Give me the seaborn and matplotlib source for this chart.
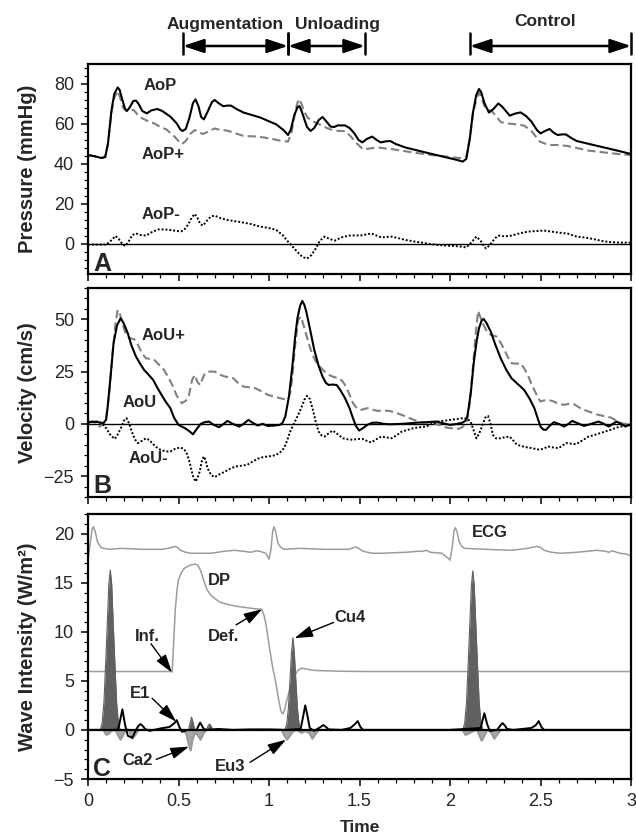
import numpy as np
import matplotlib
matplotlib.use("Agg")
import matplotlib.pyplot as plt
import matplotlib.transforms as mtransforms
from matplotlib.ticker import MultipleLocator, AutoMinorLocator
import seaborn as sns

# ---------------- DATA ----------------
# Panel A: pressure (mmHg)
t_aop = [0, 0.04, 0.074, 0.095, 0.11, 0.13, 0.145, 0.164, 0.175, 0.19, 0.205, 0.215, 0.232, 0.25, 0.265, 0.28, 0.3,
         0.325, 0.35, 0.383, 0.41, 0.455, 0.49, 0.51, 0.522, 0.54, 0.56, 0.58, 0.594, 0.61, 0.625, 0.64, 0.66, 0.685,
         0.70, 0.72, 0.747, 0.77, 0.79, 0.82, 0.86, 0.95, 1.04, 1.08, 1.105, 1.12, 1.14, 1.158, 1.168, 1.18, 1.195,
         1.21, 1.23, 1.25, 1.275, 1.296, 1.315, 1.34, 1.36, 1.38, 1.42, 1.445, 1.47, 1.495, 1.516, 1.54, 1.57, 1.595,
         1.617, 1.645, 1.67, 1.70, 1.756, 1.868, 1.98, 2.04, 2.07, 2.09, 2.11, 2.126, 2.145, 2.16, 2.172, 2.19, 2.215,
         2.24, 2.267, 2.29, 2.33, 2.36, 2.39, 2.42, 2.45, 2.48, 2.5, 2.525, 2.55, 2.575, 2.595, 2.62, 2.64, 2.67, 2.70,
         2.83, 2.92, 3.0]
aop = [44.5, 43.8, 43.0, 43.5, 50, 67, 75, 78.3, 77, 72, 67.5, 66.5, 68.5, 71.5, 71.7, 70, 66.5,
       65.3, 66.8, 67.5, 66.5, 63.7, 60.3, 57.3, 56.5, 57.5, 63, 70.5, 72.3, 69, 63.5, 62.3, 66, 71,
       72, 70.5, 68.9, 69.2, 69.2, 67.5, 65.7, 63.3, 59.8, 57, 54.5, 57, 64.5, 68.5, 69, 66.5, 62.5,
       58.5, 56.5, 58, 62, 63.5, 61.5, 58.7, 58.5, 59.3, 59.3, 58, 55.5, 52, 50.8, 52.5, 53.7, 52,
       50.8, 51.3, 51.5, 50, 48.2, 45.7, 43.3, 42, 41.2, 42.5, 53, 65.3, 74.5, 77.5, 76, 70.5, 65.7,
       67.5, 70.3, 68.5, 64.2, 65.2, 65.8, 64, 61.2, 57, 55.3, 56.5, 57.5, 55.5, 54.5, 54.8, 54.8, 53, 51.5,
       48.7, 46.8, 45]

t_aop_f = [0, 0.04, 0.074, 0.095, 0.11, 0.13, 0.145, 0.164, 0.178, 0.195, 0.21, 0.23, 0.253, 0.275, 0.30, 0.33,
           0.366, 0.40, 0.433, 0.455, 0.478, 0.50, 0.52, 0.54, 0.565, 0.59, 0.61, 0.635, 0.66, 0.70, 0.73, 0.77,
           0.81, 0.86, 0.92, 0.97, 1.03, 1.06, 1.105, 1.125, 1.14, 1.155, 1.166, 1.18, 1.195, 1.215, 1.25, 1.285,
           1.32, 1.35, 1.385, 1.42, 1.45, 1.48, 1.52, 1.56, 1.6, 1.64, 1.69, 1.78, 1.87, 1.97, 2.07, 2.09, 2.11,
           2.126, 2.145, 2.16, 2.175, 2.19, 2.204, 2.23, 2.255, 2.28, 2.31, 2.35, 2.41, 2.45, 2.496, 2.53, 2.56,
           2.6, 2.65, 2.70, 2.765, 2.85, 2.93, 3.0]
aop_f = [44.5, 43.8, 43, 43.5, 50, 66, 73, 76.5, 73, 68, 66.7, 67, 67, 64.5, 62.8, 61.5,
         60.3, 58.5, 57.3, 55.5, 53.7, 51.5, 50, 51.5, 55, 57, 56, 55, 56, 57.8, 57, 56.7,
         55.5, 54, 53.8, 53.3, 52.3, 51.7, 51.2, 56, 63.7, 70, 72.5, 70, 66, 63, 61, 59.5,
         58, 57, 56.5, 56.5, 54, 50.7, 47.3, 47.8, 48.3, 47.8, 47.3, 46, 44.8, 43.8, 42.8, 43.5, 53,
         64.5, 72.5, 75.7, 73, 69, 67.3, 66.5, 64, 61, 60.3, 60, 59.2, 56.5, 51.2, 50, 49.5,
         49.5, 49, 48, 46.7, 45.8, 45, 44.5]

t_aop_b = [0, 0.06, 0.1, 0.125, 0.152, 0.17, 0.19, 0.205, 0.22, 0.245, 0.265, 0.29, 0.32, 0.35, 0.388, 0.42, 0.455,
           0.49, 0.515, 0.535, 0.555, 0.575, 0.59, 0.605, 0.62, 0.635, 0.655, 0.68, 0.70, 0.73, 0.77, 0.82, 0.86,
           0.9, 0.95, 1.0, 1.04, 1.075, 1.105, 1.135, 1.16, 1.185, 1.21, 1.235, 1.257, 1.28, 1.307, 1.335, 1.364,
           1.40, 1.44, 1.475, 1.51, 1.54, 1.565, 1.595, 1.62, 1.65, 1.677, 1.72, 1.756, 1.80, 1.845, 1.89, 1.935,
           1.98, 2.025, 2.06, 2.09, 2.115, 2.146, 2.17, 2.19, 2.2, 2.22, 2.25, 2.27, 2.30, 2.34, 2.38, 2.43, 2.48,
           2.52, 2.56, 2.6, 2.65, 2.7, 2.75, 2.79, 2.84, 2.88, 2.94, 3.0]
aop_b = [-0.3, -0.3, -0.3, 1.5, 4, 2.5, 0, -1, 0.5, 4.5, 5.3, 4.5, 4.2, 5.8, 7.3, 7.3, 7,
         6.5, 6.3, 7.5, 10, 13.5, 15, 13, 10, 9.2, 11.5, 13.8, 14.2, 13, 12, 11.3, 10.7,
         10, 8.7, 8, 7, 4.5, 1.2, -1.8, -4.3, -6.5, -7.3, -5.5, -2.5, 1.5, 3.7, 2.5, 1.7,
         3.3, 4.2, 4.3, 4.3, 4.8, 5.3, 4.2, 3.3, 3.5, 3.7, 2.8, 2, 1.3, 0.7, 0, -0.5,
         -0.8, -1, -1.3, -1.7, 0.5, 3.7, 1.5, -1.5, -2.2, -0.5, 3, 4.2, 3.8, 4.2, 5.2, 6.2, 6.5,
         6.7, 6.2, 5.7, 5.2, 3.7, 3.2, 2.5, 1.5, 1, 0.7, 0.7]

# Panel B: velocity (cm/s)
t_aou = [0, 0.02, 0.05, 0.07, 0.085, 0.1, 0.108, 0.125, 0.141, 0.16, 0.18, 0.195, 0.22, 0.24, 0.265, 0.29, 0.31,
         0.335, 0.36, 0.385, 0.406, 0.43, 0.455, 0.475, 0.5, 0.534, 0.56, 0.58, 0.6, 0.623, 0.645, 0.668, 0.695,
         0.724, 0.75, 0.77, 0.80, 0.836, 0.86, 0.886, 0.91, 0.937, 0.965, 0.993, 1.03, 1.06, 1.075, 1.09, 1.11,
         1.128, 1.145, 1.157, 1.172, 1.184, 1.195, 1.206, 1.225, 1.25, 1.275, 1.296, 1.315, 1.33, 1.35, 1.374,
         1.395, 1.42, 1.445, 1.464, 1.48, 1.498, 1.52, 1.543, 1.57, 1.6, 1.633, 1.666, 1.733, 1.78, 1.823, 1.87,
         1.924, 1.96, 2.0, 2.04, 2.07, 2.085, 2.096, 2.115, 2.132, 2.148, 2.16, 2.175, 2.186, 2.2, 2.226, 2.25,
         2.28, 2.31, 2.34, 2.375, 2.41, 2.44, 2.466, 2.485, 2.5, 2.515, 2.53, 2.55, 2.574, 2.6, 2.63, 2.655, 2.675,
         2.70, 2.74, 2.78, 2.82, 2.85, 2.877, 2.9, 2.92, 2.945, 2.97, 3.0]
aou = [0.5, 1, 1, 0.5, 0.3, 2, 7.5, 23, 38.5, 47, 50.5, 48.5, 43.3, 37.5, 32.2, 28.5, 25.8,
       23.5, 21, 17, 13.9, 10.5, 7.5, 3, -0.5, -2, -3.5, -5, -2.5, 0, 0.8, 1.1, -0.5,
       -1.6, 0, 1.4, 0, -1.3, 0, 1.9, 0.5, -0.8, 0, -1, -0.8, -0.5, 0.5, 3.5, 13,
       26.6, 42, 50.5, 56.5, 58.8, 57, 53.7, 46, 35.4, 27.5, 22.6, 19.5, 18.6, 18.8, 18.6,
       16, 12.3, 7.5, 2.7, -1, -3.2, -2, -0.5, 0.5, 0.6, 0, -0.2, 0, 0.3, 0.6, 0.8,
       1.1, 0.3, -0.5, 0, 0.6, 1.5, 3.5, 15, 29.8, 40, 45.7, 49.5, 50.2, 48.5, 44, 38,
       31.4, 26, 21.8, 19, 16.2, 12, 7.5, 2.5, -1.3, -2.7, -2.9, -1, 0.8, 0, -1.3, 0, 1.4,
       0.5, -1, 0, 1.1, 0, -1.3, 0, 1.1, 0, -1.3, 0]

t_aou_f = [0, 0.02, 0.045, 0.063, 0.08, 0.1, 0.118, 0.137, 0.152, 0.164, 0.175, 0.193, 0.21, 0.231, 0.255, 0.276,
           0.30, 0.32, 0.345, 0.366, 0.39, 0.42, 0.445, 0.466, 0.49, 0.518, 0.54, 0.556, 0.575, 0.59, 0.605, 0.619,
           0.632, 0.646, 0.67, 0.70, 0.73, 0.758, 0.78, 0.803, 0.83, 0.86, 0.89, 0.926, 0.96, 0.993, 1.03, 1.06,
           1.085, 1.105, 1.118, 1.128, 1.145, 1.161, 1.177, 1.19, 1.206, 1.225, 1.24, 1.258, 1.274, 1.29, 1.307,
           1.33, 1.352, 1.386, 1.405, 1.42, 1.445, 1.464, 1.485, 1.509, 1.543, 1.57, 1.6, 1.63, 1.666, 1.7, 1.733,
           1.77, 1.8, 1.845, 1.913, 1.95, 1.98, 2.02, 2.047, 2.07, 2.092, 2.11, 2.126, 2.142, 2.155, 2.168, 2.186,
           2.205, 2.226, 2.26, 2.285, 2.305, 2.325, 2.34, 2.365, 2.39, 2.41, 2.43, 2.45, 2.47, 2.485, 2.5, 2.52,
           2.54, 2.574, 2.6, 2.63, 2.66, 2.686, 2.71, 2.74, 2.78, 2.82, 2.86, 2.89, 2.91, 2.93, 2.96, 3.0]
aou_f = [0.5, 1, 0.5, -1.3, -0.5, 2.7, 15, 34.6, 48, 54.5, 53, 47.3, 42.5, 41, 40.5, 37.8,
         33.5, 31.4, 31, 30.6, 28.5, 25.8, 22, 18.6, 13.5, 9.9, 11, 13, 21, 23.4, 20, 18.6,
         21.5, 24.2, 25, 25, 23.5, 22.6, 22.3, 21.8, 19.5, 17.8, 17.5, 17, 15.5, 13.9, 13, 12.3,
         11.8, 11.5, 15, 21.8, 38, 49.7, 51.3, 47.5, 42.5, 37, 33, 30, 28.2, 26.5, 25,
         23.5, 22.6, 21.8, 20.5, 18.6, 14, 9.9, 7.5, 6.7, 7.5, 6.8, 6.2, 6.3, 6.2, 5.3, 4.3,
         3, 1.9, 0.6, 0.3, -0.8, -1.8, -2.2, -2.4, -1.5, 1.1, 10, 26.6, 43, 54, 51, 47.3,
         44, 42.5, 41.7, 38, 34.6, 31, 29, 28.8, 29, 26.5, 23.4, 19, 15.5, 12.5, 10.7, 11.2,
         11.5, 10.7, 9.5, 9.1, 9.6, 9.4, 8, 6.7, 5.5, 4.3, 3.5, 3, 2, 0.8, 0, 0]

t_aou_b = [0, 0.05, 0.075, 0.1, 0.125, 0.148, 0.165, 0.182, 0.198, 0.213, 0.228, 0.242, 0.26, 0.276, 0.3, 0.32,
           0.34, 0.354, 0.375, 0.4, 0.43, 0.455, 0.48, 0.51, 0.53, 0.545, 0.557, 0.567, 0.58, 0.594, 0.605, 0.617,
           0.63, 0.64, 0.65, 0.66, 0.68, 0.70, 0.73, 0.758, 0.785, 0.814, 0.85, 0.88, 0.91, 0.937, 0.965, 0.993,
           1.02, 1.04, 1.06, 1.083, 1.1, 1.117, 1.14, 1.161, 1.18, 1.195, 1.21, 1.225, 1.24, 1.257, 1.274, 1.29,
           1.307, 1.33, 1.352, 1.38, 1.408, 1.44, 1.464, 1.49, 1.52, 1.545, 1.565, 1.59, 1.62, 1.65, 1.677, 1.705,
           1.733, 1.77, 1.8, 1.835, 1.868, 1.9, 1.935, 1.97, 2.0, 2.035, 2.07, 2.095, 2.114, 2.13, 2.146, 2.162,
           2.18, 2.195, 2.21, 2.224, 2.237, 2.255, 2.28, 2.305, 2.33, 2.35, 2.37, 2.41, 2.45, 2.496, 2.52, 2.54,
           2.57, 2.6, 2.62, 2.64, 2.67, 2.697, 2.73, 2.765, 2.81, 2.856, 2.89, 2.92, 2.96, 3.0]
aou_b = [1, 1, 0.5, -2, -5.5, -7.2, -5, -2, 1.5, 2.7, 0, -3.7, -7.5, -9.2, -8, -6.9,
         -7.8, -9.2, -11, -12.4, -13.2, -13.2, -12, -11.3, -12, -14, -17, -20.4, -25, -27.6, -26, -22.8,
         -17.5, -15.6, -17.5, -21.2, -24.5, -25.5, -24, -22.8, -21.5, -20.4, -20, -19.6, -18, -16.7, -16, -15.6,
         -15.3, -14.8, -13.8, -11.6, -8, -3.7, 0.5, 4.3, 8, 11.5, 13.4, 12, 7.5, 1.5, -3.7, -5.5,
         -6.1, -4.5, -3.2, -5, -6.9, -7.5, -7.6, -7.2, -7.3, -8.3, -8.9, -7.5, -6.1, -6.5, -6.9, -5.5,
         -3.7, -2.8, -2, -1.6, -1.3, 0, 1.1, 1.5, 1.9, 2.3, 2.7, 2.5, 1.1, -3, -6.9, -4.5,
         -0.5, 3, 3.8, 0, -5.3, -7, -6.9, -6.3, -6.1, -8, -10, -11, -11.6, -12.4, -11.8, -10.8,
         -11.3, -11.6, -10.5, -9.2, -9.5, -9.7, -8, -6.1, -5, -3.7, -2.8, -1.8, -1, -0.5]

# Panel C: ECG, DP and wave intensity (W/m^2)
t_ecg = [0, 0.012, 0.022, 0.03, 0.04, 0.052, 0.07, 0.085, 0.12, 0.186, 0.3, 0.41, 0.455, 0.48, 0.495, 0.51, 0.54,
         0.567, 0.68, 0.75, 0.81, 0.86, 0.9, 0.93, 0.95, 0.982, 0.995, 1.0, 1.011, 1.02, 1.027, 1.037, 1.05, 1.065,
         1.083, 1.173, 1.307, 1.44, 1.465, 1.48, 1.495, 1.52, 1.57, 1.62, 1.756, 1.82, 1.845, 1.87, 1.89, 1.955,
         1.99, 2.0, 2.013, 2.022, 2.03, 2.04, 2.05, 2.065, 2.08, 2.2, 2.34, 2.43, 2.48, 2.5, 2.52, 2.56, 2.61, 2.7,
         2.81, 2.86, 2.877, 2.9, 2.92, 2.94, 2.98, 3.0]
ecg = [17.3, 19.0, 20.4, 20.7, 20.2, 19.2, 18.6, 18.5, 18.4, 18.5, 18.4, 18.4, 18.55, 18.7, 18.6, 18.3, 18.1,
       18.0, 18.0, 18.2, 18.3, 18.2, 18.1, 18.25, 18.2, 18.0, 17.6, 17.4, 18.4, 20.2, 20.7, 20.2, 19.0, 18.6,
       18.4, 18.5, 18.4, 18.4, 18.55, 18.65, 18.5, 18.2, 18.0, 18.0, 18.1, 18.2, 18.2, 18.3, 18.1, 18.0,
       17.5, 17.3, 18.7, 20.3, 20.6, 20.1, 19.2, 18.7, 18.5, 18.4, 18.3, 18.5, 18.7, 18.6, 18.3, 18.1, 18.0, 18.1,
       18.3, 18.2, 18.1, 18.25, 18.1, 18.0, 17.9, 17.7]

t_dp = [0, 0.2, 0.455, 0.465, 0.473, 0.482, 0.492, 0.50, 0.515, 0.534, 0.567, 0.59, 0.607, 0.623, 0.64, 0.657, 0.68,
        0.70, 0.73, 0.77, 0.82, 0.86, 0.92, 0.96, 0.972, 0.982, 0.993, 1.004, 1.02, 1.038, 1.052, 1.065, 1.072,
        1.078, 1.086, 1.094, 1.11, 1.128, 1.145, 1.161, 1.184, 1.22, 1.262, 1.4, 1.53, 3.0]
dp = [5.95, 5.95, 5.95, 5.9, 8.8, 12.2, 14.3, 15.3, 16.0, 16.5, 16.8, 16.9, 16.8, 16.2, 15.2, 14.3, 13.7,
      13.4, 13.0, 12.8, 12.6, 12.5, 12.35, 12.3, 11.7, 10.9, 9.6, 8.2, 6.4, 4.8, 3.2, 2.0, 1.7,
      1.65, 2.0, 2.7, 3.8, 4.8, 5.6, 6.1, 6.3, 6.15, 6.05, 5.98, 5.95, 5.95]

t_wi_fwd = [0, 0.068, 0.078, 0.088, 0.098, 0.107, 0.115, 0.123, 0.131, 0.139, 0.148, 0.158, 0.168, 0.178,
            0.555, 0.565, 0.572, 0.58, 0.59, 0.655, 0.665, 0.672, 0.68, 0.69,
            1.088, 1.098, 1.107, 1.115, 1.124, 1.132, 1.14, 1.149, 1.157, 1.166, 1.176,
            2.071, 2.081, 2.091, 2.101, 2.11, 2.118, 2.126, 2.134, 2.142, 2.151, 2.161, 2.171, 2.181, 3.0]
wi_fwd = [0, 0, 0.7, 2.8, 7.0, 11.0, 14.8, 16.3, 14.8, 11.0, 7.0, 2.8, 0.7, 0,
          0, 0.8, 1.3, 0.8, 0, 0, 0.5, 0.6, 0.4, 0,
          0, 0.6, 2.2, 4.8, 7.8, 9.4, 7.8, 4.8, 2.2, 0.6, 0,
          0, 0.7, 2.8, 7.0, 11.0, 14.7, 16.2, 14.7, 11.0, 7.0, 2.8, 0.7, 0, 0]

t_wi_bwd = [0, 0.085, 0.1, 0.115, 0.13, 0.15, 0.165, 0.18, 0.195, 0.21, 0.225, 0.245, 0.262, 0.28, 0.53, 0.545,
            0.557, 0.567, 0.578, 0.59, 0.605, 0.622, 0.64, 0.655, 1.07, 1.085, 1.1, 1.115, 1.13, 1.15, 1.18, 1.2,
            1.222, 1.24, 1.258, 1.275, 2.07, 2.085, 2.1, 2.13, 2.15, 2.163, 2.175, 2.19, 2.205, 2.225, 2.245, 2.26,
            2.28, 3.0]
wi_bwd = [0, 0, -0.5, -0.4, -0.1, 0, -0.5, -1.0, -0.5, 0.1, 0, -0.9, -0.5, 0, 0, -0.5,
          -1.5, -2.1, -1.0, -0.3, -0.5, -1.0, -0.3, 0, 0, -0.6, -1.0, -0.6, -0.2, 0, -0.3, -0.1,
          -0.3, -0.9, -0.4, 0, 0, -0.5, -0.4, -0.1, 0, -0.6, -1.1, -0.6, 0, -0.2, -0.9, -0.5,
          0, 0]

t_wi_net = [0, 0.16, 0.17, 0.18, 0.19, 0.205, 0.22, 0.245, 0.265, 0.278, 0.29, 0.303, 0.315, 0.34, 0.4, 0.45,
            0.478, 0.49, 0.505, 0.52, 0.55, 0.6, 0.61, 0.62, 0.63, 0.64, 0.66, 0.72, 0.8, 0.9, 1.0, 1.1, 1.175,
            1.19, 1.2, 1.212, 1.225, 1.25, 1.285, 1.3, 1.315, 1.33, 1.4, 1.45, 1.475, 1.49, 1.505, 1.52, 2.0,
            2.17, 2.18, 2.19, 2.205, 2.22, 2.26, 2.278, 2.29, 2.303, 2.315, 2.35, 2.45, 2.475, 2.49, 2.505, 2.52,
            3.0]
wi_net = [0, 0, 0.3, 1.2, 2.1, 0.5, -0.6, -0.8, 0, 0.4, 0.6, 0.4, 0.1, -0.1, 0.15, 0.3,
          0.7, 1.0, 0.3, -0.2, 0, 0, 0.4, 0.75, 0.4, 0.1, 0, 0.1, 0, 0.05, 0.05, 0, 0.1,
          1.5, 2.5, 1.5, 0.2, -0.1, 0.3, 0.5, 0.3, 0.05, 0, 0.2, 0.6, 0.9, 0.3, 0, 0,
          0.2, 1.0, 1.7, 0.6, -0.1, 0, 0.45, 0.7, 0.45, 0.1, 0, 0.2, 0.5, 0.9, 0.3, 0,
          0]

# Labels
period_labels = ["Augmentation", "Unloading", "Control"]
period_edges = [(0.525, 1.105), (1.105, 1.53), (2.11, 3.0)]
ylabels = ["Pressure (mmHg)", "Velocity (cm/s)", "Wave Intensity (W/m²)"]

# ---------------- STYLE ----------------
sns.set_style("ticks")
plt.rcParams["font.family"] = ["Liberation Sans", "DejaVu Sans"]

fig = plt.figure(figsize=(6.36, 8.36), dpi=100)
L, R = 88 / 636, 631 / 636
def frame(top_px, bot_px):
    return [L, 1 - bot_px / 836, R - L, (bot_px - top_px) / 836]
axA = fig.add_axes(frame(64, 274))
axB = fig.add_axes(frame(288, 497))
axC = fig.add_axes(frame(514, 779))

def line(ax, t, v, **kw):
    sns.lineplot(x=t, y=v, ax=ax, estimator=None, sort=False, legend=False, **kw)

GRAY = "#808080"
# Panel A
axA.axhline(0, color="black", lw=1.0, zorder=1)
line(axA, t_aop_f, aop_f, color=GRAY, lw=1.5, linestyle=(0, (4, 2)))
line(axA, t_aop_b, aop_b, color="black", lw=1.4, linestyle=(0, (1, 1)))
line(axA, t_aop, aop, color="black", lw=1.5)
# Panel B
axB.axhline(0, color="black", lw=1.0, zorder=1)
line(axB, t_aou_f, aou_f, color=GRAY, lw=1.5, linestyle=(0, (4, 2)))
line(axB, t_aou_b, aou_b, color="black", lw=1.4, linestyle=(0, (1, 1)))
line(axB, t_aou, aou, color="black", lw=1.5)
# Panel C
line(axC, t_ecg, ecg, color="#9c9c9c", lw=1.1)
line(axC, t_dp, dp, color="#9c9c9c", lw=1.1)
axC.fill_between(t_wi_bwd, 0, wi_bwd, color="#a8a8a8", lw=0, zorder=2)
line(axC, t_wi_bwd, wi_bwd, color="#9a9a9a", lw=1.5, zorder=3)
axC.fill_between(t_wi_fwd, 0, wi_fwd, color="#606060", lw=0, zorder=3)
line(axC, t_wi_fwd, wi_fwd, color="#606060", lw=0.8, zorder=3)
line(axC, t_wi_net, wi_net, color="black", lw=1.4, zorder=4)
axC.axhline(0, color="black", lw=1.6, zorder=5)

# Axes formatting
for ax, (lo, hi), maj, lab in [(axA, (-15, 90), 20, ylabels[0]),
                               (axB, (-35, 65), 25, ylabels[1]),
                               (axC, (-5, 22), 5, ylabels[2])]:
    ax.set_xlim(0, 3)
    ax.set_ylim(lo, hi)
    ax.yaxis.set_major_locator(MultipleLocator(maj))
    ax.yaxis.set_minor_locator(AutoMinorLocator(5))
    ax.xaxis.set_major_locator(MultipleLocator(0.5))
    ax.xaxis.set_minor_locator(AutoMinorLocator(5))
    ax.tick_params(which="major", direction="out", length=5, width=1.1, labelsize=13, color="black", pad=5)
    ax.tick_params(which="minor", direction="out", length=3, width=0.9, color="black")
    for s in ax.spines.values():
        s.set_visible(True)
        s.set_linewidth(1.6)
        s.set_color("black")
    ax.set_ylabel(lab, fontsize=14.5, fontweight="bold")
    ax.yaxis.set_label_coords(-0.094, 0.5)
    ax.set_xlabel("")
    ax.set_facecolor("white")

axA.tick_params(axis="x", labelbottom=False)
axB.tick_params(axis="x", labelbottom=False)
axC.set_xticks([0, 0.5, 1, 1.5, 2, 2.5, 3])
axC.set_xticklabels(["0", "0.5", "1", "1.5", "2", "2.5", "3"])
axC.set_xlabel("Time", fontsize=12.5, fontweight="bold", labelpad=7)

TXT = dict(fontsize=12, fontweight="bold", ha="center", va="center")
axA.text(0.40, 79, "AoP", **TXT)
axA.text(0.415, 44.7, "AoP+", **TXT)
axA.text(0.405, 14.8, "AoP-", **TXT)
axB.text(0.415, 42.1, "AoU+", **TXT)
axB.text(0.287, 10.4, "AoU", **TXT)
axB.text(0.332, -16.7, "AoU-", **TXT)
axC.text(2.218, 20.07, "ECG", **TXT)
axC.text(0.726, 15.2, "DP", **TXT)
axC.text(0.327, 9.56, "Inf.", **TXT)
axC.text(0.751, 9.52, "Def.", **TXT)
axC.text(1.449, 11.5, "Cu4", **TXT)
axC.text(0.287, 3.67, "E1", **TXT)
axC.text(0.276, -3.13, "Ca2", **TXT)
axC.text(0.785, -3.74, "Eu3", **TXT)

PL = dict(fontsize=18, fontweight="bold", ha="left", va="baseline")
axA.text(0.03, -13.3, "A", **PL)
axB.text(0.03, -33.0, "B", **PL)
axC.text(0.03, -4.65, "C", **PL)

ARW = dict(arrowstyle="-|>,head_length=0.8,head_width=0.25", color="black", lw=1.0,
           mutation_scale=14, shrinkA=0, shrinkB=0)
for start, tip in [((0.348, 8.78), (0.464, 5.85)),
                   ((0.818, 10.7), (0.962, 12.3)),
                   ((1.357, 10.95), (1.141, 9.35)),
                   ((0.354, 3.23), (0.487, 0.85)),
                   ((0.377, -3.0), (0.558, -1.7)),
                   ((0.895, -3.3), (1.094, -1.0))]:
    axC.annotate("", xy=tip, xytext=start, arrowprops=ARW, zorder=6)

# Top period arrows
trans = mtransforms.blended_transform_factory(axA.transData, fig.transFigure)
y_arr = 1 - 46 / 836
y_txt = 1 - 24 / 836
for lab, (x0, x1) in zip(period_labels, period_edges):
    axA.annotate("", xy=(x1, y_arr), xytext=(x0, y_arr), xycoords=trans, textcoords=trans,
                 arrowprops=dict(arrowstyle="<|-|>,head_length=0.9,head_width=0.3", color="black",
                                 lw=1.8, mutation_scale=14, shrinkA=0, shrinkB=0),
                 annotation_clip=False)
    for xb in (x0, x1):
        axA.plot([xb, xb], [1 - 33 / 836, 1 - 54 / 836], transform=trans, color="black",
                 lw=1.8, clip_on=False)
TOP = dict(transform=trans, fontsize=12.5, fontweight="bold", ha="center", va="center")
axA.text(0.76, y_txt, period_labels[0], **TOP)
axA.text(1.38, y_txt, period_labels[1], **TOP)
axA.text(2.525, 1 - 22 / 836, period_labels[2], **TOP)

fig.savefig("out.png", dpi=100, facecolor="white")
